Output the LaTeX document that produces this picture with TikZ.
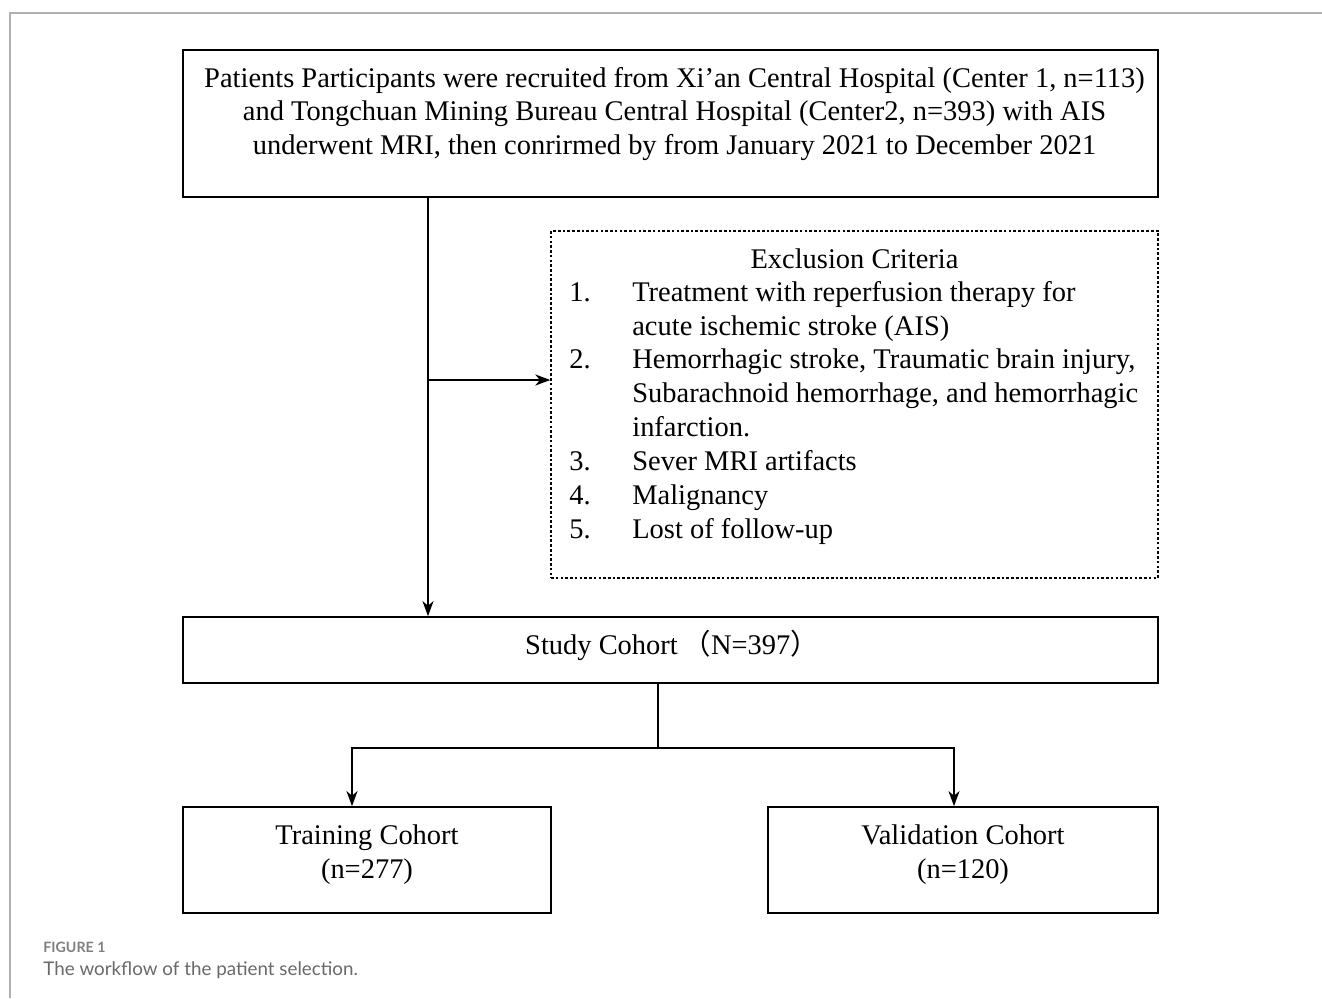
\documentclass[tikz,border=0pt]{standalone}
\usepackage{fontspec}
\setmainfont{Liberation Serif}
\newfontfamily\cjk{Noto Sans CJK SC}
\newfontfamily\capfont{Lato}
\usetikzlibrary{arrows.meta}
\definecolor{framegray}{RGB}{175,175,175}
\definecolor{capgray}{RGB}{105,105,105}
\tikzset{
	box/.style = {draw, line width=1pt, inner sep=0pt},
	exclbox/.style = {draw, line width=0.8pt, dash pattern=on 1.5pt off 1.2pt, inner sep=0pt},
	txt/.style = {font=\fontsize{16.2}{19.3}\selectfont, inner sep=0pt, align=center},
	arr/.style = {line width=1pt, -{Stealth[length=3mm,width=2.2mm,inset=0.9mm]}}
}
\begin{document}
\begin{tikzpicture}[x=0.02cm, y=-0.02cm]

			\useasboundingbox (0,0) rectangle (1322,998);

			% frame of the figure
			\draw[framegray, line width=0.8pt] (1322,13) -- (10,13) -- (10,998);

			\node[box, minimum width=19.5cm, minimum height=2.94cm] (patients) at (670.5,123.5) {};
			\node[txt] (patientstext) at (674.5,114) {Patients Participants were recruited from Xi’an Central Hospital (Center 1, n=113)\\ and Tongchuan Mining Bureau Central Hospital (Center2, n=393) with AIS\\ underwent MRI, then conrirmed by from January 2021 to December 2021};

			\node[exclbox, minimum width=12.14cm, minimum height=6.94cm] (excl) at (854.5,404.5) {};
			\node[txt] (excltitle) at (854.5,259) {Exclusion Criteria};
			\node[txt, anchor=north west, align=left] (excllist) at (569,277) {\begin{tabular}{@{}p{1.26cm}@{}l@{}}
				1. & Treatment with reperfusion therapy for\\
				   & acute ischemic stroke (AIS)\\
				2. & Hemorrhagic stroke, Traumatic brain injury,\\
				   & Subarachnoid hemorrhage, and hemorrhagic\\
				   & infarction.\\
				3. & Sever MRI artifacts\\
				4. & Malignancy\\
				5. & Lost of follow-up
			\end{tabular}};

			\node[box, minimum width=19.5cm, minimum height=1.32cm] (study) at (670.5,650) {};
			\node[txt] (studytext) at (672,645) {Study Cohort{\cjk \,（}N=397{\cjk ）}};

			\node[box, minimum width=7.36cm, minimum height=2.12cm] (train) at (367,860) {};
			\node[txt] (traintext) at (367,855) {Training Cohort\\ (n=277)};

			\node[box, minimum width=7.8cm, minimum height=2.12cm] (valid) at (963,860) {};
			\node[txt] (validtext) at (963,855) {Validation Cohort\\ (n=120)};

			% connectors
			\coordinate (split) at (428,380);
			\coordinate (fork) at (658,748);
			\coordinate (forkl) at (352,748);
			\coordinate (forkr) at (954,748);

			\draw[arr] (patients.south -| split) -- (study.north -| split);
			\draw[arr] (split) -- (split -| excl.west);

			\draw[line width=1pt] (study.south -| fork) -- (fork);
			\draw[arr] (fork) -| (train.north -| forkl);
			\draw[arr] (fork) -| (valid.north -| forkr);

			% caption
			\node[anchor=west, inner sep=0pt, font=\capfont\bfseries\fontsize{8.1}{10}\selectfont, text=capgray!85] (figlabel) at (43,947) {FIGURE 1};
			\node[anchor=west, inner sep=0pt, font=\capfont\fontsize{10.7}{12}\selectfont, text=capgray] (figcaption) at (43,970) {The workflow of the patient selection.};

\end{tikzpicture}
\end{document}
